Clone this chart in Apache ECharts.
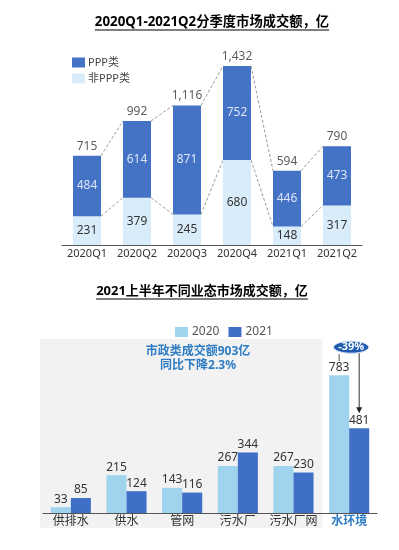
<!DOCTYPE html>
<html>
<head>
<meta charset="utf-8">
<script src="https://cdn.jsdelivr.net/npm/echarts@6/dist/echarts.min.js"></script>
<style>
html,body{margin:0;padding:0;background:#fff;}
#main{width:399px;height:550px;}
</style>
</head>
<body>
<div id="main"></div>
<script>
// ---- data ----
const quarters = ['2020Q1', '2020Q2', '2020Q3', '2020Q4', '2021Q1', '2021Q2'];
const pppValues = [484, 614, 871, 752, 446, 473];
const nonPppValues = [231, 379, 245, 680, 148, 317];
const quarterTotals = [715, 992, 1116, 1432, 594, 790];

const sectors = ['供排水', '供水', '管网', '污水厂', '污水厂网', '水环境'];
const values2020 = [33, 215, 143, 267, 267, 783];
const values2021 = [85, 124, 116, 344, 230, 481];

const title1 = '2020Q1-2021Q2分季度市场成交额，亿';
const title2 = '2021上半年不同业态市场成交额，亿';
const noteLine1 = '市政类成交额903亿';
const noteLine2 = '同比下降2.3%';
const changeLabel = '-39%';

// ---- styles ----
const FONT = "'Noto Sans', 'Noto Sans CJK SC', sans-serif";
const DARK = '#4472c4';
const LIGHT = '#d9ecfa';
const C2020 = '#9fd3ee';
const C2021 = '#3f6fc6';
const HL = '#2e7cc4';

const chart = echarts.init(document.getElementById('main'), null, {renderer: 'canvas'});

function comma(v) { return String(v).replace(/\B(?=(\d{3})+(?!\d))/g, ','); }

const option = {
  backgroundColor: '#fff',
  animation: false,
  textStyle: {fontFamily: FONT},
  legend: [
    {
      orient: 'vertical', left: 67, top: 52, itemWidth: 13, itemHeight: 10, itemGap: 5,
      icon: 'rect', data: ['PPP类', '非PPP类'],
      textStyle: {fontSize: 11, color: '#444', fontFamily: FONT, padding: [0, 0, 0, -2]}
    },
    {
      orient: 'horizontal', left: 170, top: 321, itemWidth: 13, itemHeight: 10, itemGap: 9,
      icon: 'rect', data: ['2020', '2021'],
      textStyle: {fontSize: 12, color: '#555', fontFamily: FONT, padding: [0, 0, 0, -1]}
    }
  ],
  grid: [
    {left: 62, width: 300, top: 45, height: 200},
    {left: 43, width: 334, top: 337, height: 176}
  ],
  xAxis: [
    {
      type: 'category', gridIndex: 0, data: quarters,
      axisLine: {lineStyle: {color: '#555', width: 1}}, axisTick: {show: false},
      axisLabel: {interval: 0, fontSize: 11, color: '#333', margin: 3, fontFamily: FONT}
    },
    {
      type: 'category', gridIndex: 1, data: sectors,
      axisLine: {lineStyle: {color: '#555', width: 1}}, axisTick: {show: false},
      axisLabel: {
        interval: 0, fontSize: 12, color: '#333', margin: 3, fontFamily: FONT,
        formatter: function (v, i) { return i === sectors.length - 1 ? '{hl|' + v + '}' : v; },
        rich: {hl: {color: HL, fontWeight: 'bold', fontSize: 12, fontFamily: FONT}}
      }
    }
  ],
  yAxis: [
    {type: 'value', gridIndex: 0, min: 0, max: 1600, show: false, splitLine: {show: false}},
    {type: 'value', gridIndex: 1, min: 0, max: 1000, show: false, splitLine: {show: false}}
  ],
  series: [
    {
      name: '非PPP类', type: 'bar', stack: 'q', xAxisIndex: 0, yAxisIndex: 0,
      data: nonPppValues, barWidth: '56%', itemStyle: {color: LIGHT}, z: 3,
      label: {show: true, position: 'inside', fontSize: 12, color: '#333', fontFamily: FONT}
    },
    {
      name: 'PPP类', type: 'bar', stack: 'q', xAxisIndex: 0, yAxisIndex: 0,
      data: pppValues, barWidth: '56%', itemStyle: {color: DARK}, z: 3,
      label: {show: true, position: 'inside', fontSize: 12, color: '#dce6f7', fontFamily: FONT}
    },
    {
      name: 'totals', type: 'scatter', xAxisIndex: 0, yAxisIndex: 0,
      data: quarterTotals, symbolSize: 1, itemStyle: {color: 'rgba(0,0,0,0)'},
      label: {show: true, position: 'top', distance: 3, fontSize: 12, color: '#333', fontFamily: FONT,
        formatter: function (p) { return comma(p.value); }},
      z: 4
    },
    {
      name: 'connectors', type: 'custom', xAxisIndex: 0, yAxisIndex: 0,
      data: quarters.map(function (q, i) { return [i, quarterTotals[i]]; }),
      renderItem: function (params, api) {
        const i = api.value(0);
        if (i >= quarters.length - 1) return null;
        const hw = api.size([1, 0])[0] * 0.28;
        const children = [];
        [quarterTotals, nonPppValues].forEach(function (arr) {
          const p1 = api.coord([i, arr[i]]);
          const p2 = api.coord([i + 1, arr[i + 1]]);
          children.push({
            type: 'line',
            shape: {x1: p1[0] + hw, y1: p1[1], x2: p2[0] - hw, y2: p2[1]},
            style: {stroke: '#9a9a9a', lineWidth: 1, lineDash: [3, 2]}
          });
        });
        return {type: 'group', children: children};
      },
      z: 2, silent: true
    },
    {
      name: '2020', type: 'bar', xAxisIndex: 1, yAxisIndex: 1, data: values2020,
      barGap: '0%', barCategoryGap: '28%', itemStyle: {color: C2020}, z: 3,
      label: {show: true, position: 'top', distance: 2, fontSize: 12, color: '#333', fontFamily: FONT}
    },
    {
      name: '2021', type: 'bar', xAxisIndex: 1, yAxisIndex: 1, data: values2021,
      barGap: '0%', barCategoryGap: '28%', itemStyle: {color: C2021}, z: 3,
      label: {show: true, position: 'top', distance: 2, fontSize: 12, color: '#333', fontFamily: FONT}
    }
  ]
};

chart.setOption(option);

// ---- decorations (titles, panel, annotation) ----
const ctx = document.createElement('canvas').getContext('2d');
function textWidth(t, font) { ctx.font = font; return ctx.measureText(t).width; }
const tFont1 = "bold 13.3px " + FONT;
const tFont2 = "bold 13px " + FONT;
const w1 = textWidth(title1, tFont1);
const w2 = textWidth(title2, tFont2);
const t1cx = 212, t1y = 22, t2cx = 202, t2y = 291;

const last = sectors.length - 1;
const c5 = chart.convertToPixel({gridIndex: 1}, [last, values2020[last]]);
const c5b = chart.convertToPixel({gridIndex: 1}, [last, values2021[last]]);
const c0 = chart.convertToPixel({gridIndex: 1}, [0, 0]);
const c1 = chart.convertToPixel({gridIndex: 1}, [1, 0]);
const band = c1[0] - c0[0];
const barW = band * 0.72 / 2;
const x2020 = c5[0] - barW / 2;
const x2021 = c5[0] + barW / 2;
const panelRight = c5[0] - band / 2 + 1;
const ellY = c5[1] - 28;

chart.setOption({
  graphic: [
    {type: 'rect', z: 0, silent: true, shape: {x: 40, y: 339, width: panelRight - 40, height: 189},
      style: {fill: '#f2f2f2'}},
    {type: 'text', z: 10, x: t1cx, y: t1y, style: {text: title1, font: tFont1, fill: '#000', align: 'center', verticalAlign: 'middle'}},
    {type: 'line', z: 10, shape: {x1: t1cx - w1 / 2, y1: t1y + 8, x2: t1cx + w1 / 2, y2: t1y + 8}, style: {stroke: '#000', lineWidth: 1}},
    {type: 'text', z: 10, x: t2cx, y: t2y, style: {text: title2, font: tFont2, fill: '#000', align: 'center', verticalAlign: 'middle'}},
    {type: 'line', z: 10, shape: {x1: t2cx - w2 / 2, y1: t2y + 8, x2: t2cx + w2 / 2, y2: t2y + 8}, style: {stroke: '#000', lineWidth: 1}},
    {type: 'text', z: 10, x: 198, y: 352, style: {text: noteLine1, font: "bold 12px " + FONT, fill: HL, align: 'center', verticalAlign: 'middle'}},
    {type: 'text', z: 10, x: 198, y: 366, style: {text: noteLine2, font: "bold 12px " + FONT, fill: HL, align: 'center', verticalAlign: 'middle'}},
    {type: 'line', z: 10, shape: {x1: x2020, y1: ellY + 7, x2: x2020, y2: ellY + 14}, style: {stroke: '#555', lineWidth: 1}},
    {type: 'line', z: 10, shape: {x1: x2021, y1: ellY + 6, x2: x2021, y2: c5b[1] - 20}, style: {stroke: '#333', lineWidth: 1}},
    {type: 'polygon', z: 10, shape: {points: [[x2021 - 3, c5b[1] - 21], [x2021 + 3, c5b[1] - 21], [x2021, c5b[1] - 15]]}, style: {fill: '#222'}},
    {type: 'ellipse', z: 11, shape: {cx: c5[0] + 2, cy: ellY, rx: 17.5, ry: 6}, style: {fill: '#1f5bb0', stroke: '#cfe0f5', lineWidth: 1}},
    {type: 'text', z: 12, x: c5[0] + 2, y: ellY, style: {text: changeLabel, font: "bold 11px " + FONT, fill: '#fff', align: 'center', verticalAlign: 'middle'}}
  ]
});
</script>
</body>
</html>
